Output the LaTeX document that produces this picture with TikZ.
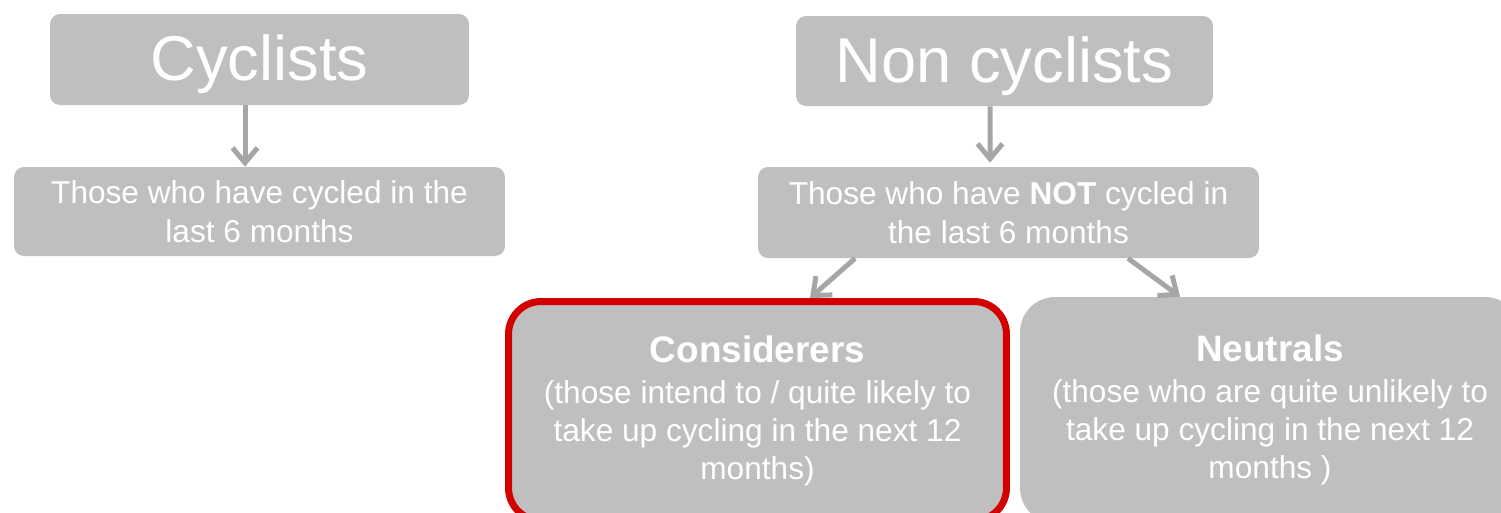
\documentclass[tikz,border=0pt]{standalone}
\usepackage{fontspec}
\setmainfont{Liberation Sans}
\usepackage{tikz}
\usetikzlibrary{positioning,arrows.meta}
\definecolor{boxgray}{HTML}{BFBFBF}
\definecolor{arrgray}{HTML}{A6A6A6}
\definecolor{markred}{HTML}{D20000}

\begin{document}
\begin{tikzpicture}[x = .02cm, y = -.02cm,
    box/.style = {fill = boxgray, rounded corners = .2cm, text = white, align = center, inner sep = 0pt},
    big/.style = {box, font = \fontsize{36}{40}\selectfont, text height = 24pt, text depth = 0pt},
    small/.style = {box, font = \fontsize{18}{22.5}\selectfont},
    group/.style = {box, rounded corners = .65cm, font = \fontsize{18}{21.5}\selectfont},
    arr/.style = {draw = arrgray, line width = .1cm, -{Straight Barb[length = .3cm, width = .5cm]}}]
    \useasboundingbox (0,0) rectangle (1501,512);
    % top row
    \node[big, minimum width = 8.38cm, minimum height = 1.82cm] (cyc) at (259.5,59.5) {Cyclists};
    \node[big, minimum width = 8.34cm, minimum height = 1.8cm] (noncyc) at (1004.5,61) {Non cyclists};
    % definitions
    \node[small, minimum width = 9.82cm, minimum height = 1.78cm] (cycdef) at (259.5,211.5) {Those who have cycled in the\\last 6 months};
    \node[small, minimum width = 10.02cm, minimum height = 1.82cm] (noncycdef) at (1008.5,212.5) {Those who have \textbf{NOT} cycled in\\the last 6 months};
    % sub groups
    \node[group, draw = markred, line width = .14cm, minimum width = 9.96cm, minimum height = 4.38cm] (cons) at (757.5,411)
        {{\fontsize{21}{21.5}\selectfont\bfseries Considerers}\\[2pt](those intend to / quite likely to\\take up cycling in the next 12\\months)};
    \node[group, rounded corners = .7cm, minimum width = 10cm, minimum height = 4.52cm] (neut) at (1270,410)
        {{\fontsize{21}{21.5}\selectfont\bfseries Neutrals}\\[2pt](those who are quite unlikely to\\take up cycling in the next 12\\months )};
    \draw[arr] ([xshift = -.29cm]cyc.south) -- ([xshift = -.29cm]cycdef.north);
    \draw[arr] ([xshift = -.29cm]noncyc.south) -- ([xshift = -.37cm, yshift = .08cm]noncycdef.north);
    \draw[arr] ([xshift = -3.07cm]noncycdef.south) -- ([xshift = 1.05cm]cons.north);
    \draw[arr] ([xshift = 2.39cm]noncycdef.south) -- ([xshift = -1.8cm]neut.north);
\end{tikzpicture}
\end{document}
